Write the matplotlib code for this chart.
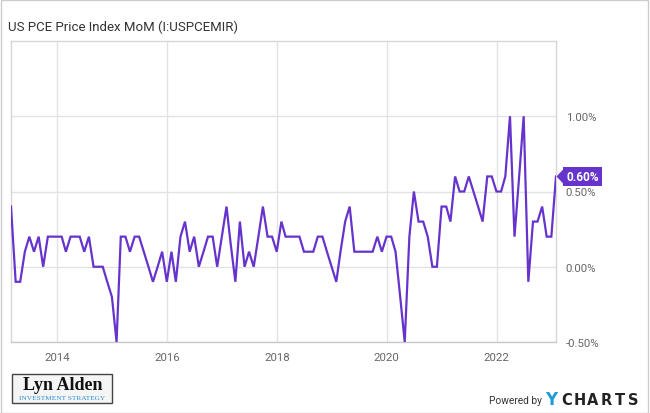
import numpy as np
import pandas as pd
import matplotlib
matplotlib.use("Agg")
import matplotlib.pyplot as plt
import matplotlib.dates as mdates
from matplotlib.patches import Rectangle
from matplotlib.path import Path

plt.rcParams["font.family"] = ["Roboto", "DejaVu Sans"]

# 数据: 月度 PCE 价格指数环比 (%), 2013-02 .. 2023-01
dates = pd.date_range("2013-02-28", "2023-01-31", freq="ME")
pce_2013 = [0.4, -0.1, -0.1, 0.1, 0.2, 0.1, 0.2, 0.0, 0.2, 0.2, 0.2]
pce_2014 = [0.2, 0.1, 0.2, 0.2, 0.2, 0.1, 0.2, 0.0, 0.0, 0.0, -0.1, -0.2]
pce_2015 = [-0.5, 0.2, 0.2, 0.1, 0.2, 0.2, 0.1, 0.0, -0.1, 0.0, 0.1, -0.1]
pce_2016 = [0.1, -0.1, 0.2, 0.3, 0.1, 0.2, 0.0, 0.1, 0.2, 0.2, 0.0, 0.2]
pce_2017 = [0.4, 0.15, -0.1, 0.3, 0.0, 0.1, 0.0, 0.2, 0.4, 0.2, 0.2, 0.1]
pce_2018 = [0.3, 0.2, 0.2, 0.2, 0.2, 0.1, 0.1, 0.1, 0.2, 0.2, 0.1, 0.0]
pce_2019 = [-0.1, 0.1, 0.3, 0.4, 0.1, 0.1, 0.1, 0.1, 0.1, 0.2, 0.1, 0.2]
pce_2020 = [0.2, 0.1, -0.2, -0.5, 0.2, 0.5, 0.3, 0.3, 0.2, 0.0, 0.0, 0.4]
pce_2021 = [0.4, 0.3, 0.6, 0.5, 0.5, 0.6, 0.5, 0.4, 0.3, 0.6, 0.6, 0.5]
pce_2022 = [0.5, 0.6, 1.0, 0.2, 0.6, 1.0, -0.1, 0.3, 0.3, 0.4, 0.2, 0.2]
pce_2023 = [0.6]
values = np.array(pce_2013 + pce_2014 + pce_2015 + pce_2016 + pce_2017 + pce_2018
                  + pce_2019 + pce_2020 + pce_2021 + pce_2022 + pce_2023)

y_ticks = [-0.5, 0.0, 0.5, 1.0]
x_years = [2014, 2016, 2018, 2020, 2022]

LINE_COLOR = "#6633cc"
GRID_COLOR = "#e3e3e3"
TEXT_COLOR = "#666666"

fig = plt.figure(figsize=(6.5, 4.14), dpi=100)
ax = fig.add_axes([11 / 650, 1 - 343 / 414, 545 / 650, 301 / 414])

ax.plot(dates, values, color=LINE_COLOR, lw=1.6, solid_joinstyle="miter", zorder=3)

ax.set_xlim(dates[0], dates[-1])
ax.set_ylim(-0.5, 1.5)
ax.set_yticks(y_ticks)
ax.set_yticklabels([f"{v:.2f}%" for v in y_ticks])
ax.set_xticks([pd.Timestamp(f"{y}-01-01") for y in x_years])
ax.xaxis.set_major_formatter(mdates.DateFormatter("%Y"))
ax.yaxis.tick_right()
ax.tick_params(axis="y", length=0, pad=7, labelsize=8.2, labelcolor=TEXT_COLOR)
ax.tick_params(axis="x", length=0, pad=7, labelsize=8.2, labelcolor=TEXT_COLOR)
for lab in ax.get_yticklabels():
    lab.set_horizontalalignment("left")
ax.grid(True, color=GRID_COLOR, lw=1)
ax.set_axisbelow(True)
for s in ax.spines.values():
    s.set_color("#d6d6d6")
    s.set_linewidth(1)
ax.spines["bottom"].set_color("#c8c8c8")

# 最新值标签
last_val = values[-1]
tri = Path([(0, 0), (8, -8.5), (8, 8.5), (0, 0)])
ax.plot([dates[-1]], [last_val], marker=tri, markersize=12.2, color=LINE_COLOR,
        markeredgewidth=0, clip_on=False, zorder=5)
ax.annotate(f"{last_val:.2f}%", xy=(dates[-1], last_val), xytext=(7.4, 0),
            textcoords="offset points", ha="left", va="center", fontsize=8.6,
            fontweight="bold", color="white", annotation_clip=False, zorder=6,
            bbox=dict(boxstyle="square,pad=0.25", fc=LINE_COLOR, ec=LINE_COLOR, lw=0))

fig.text(8 / 650, 1 - 27.5 / 414, "US PCE Price Index MoM (I:USPCEMIR)",
         fontsize=9.5, color="#333333", ha="left", va="center")

# 外框
fig.patches.append(Rectangle((0.5 / 650, 0.5 / 414), 647.5 / 650, 413 / 414,
                             transform=fig.transFigure, fill=False,
                             ec="#cccccc", lw=1))

# 左下 logo
fig.patches.append(Rectangle((12 / 650, 1 - 404 / 414), 100 / 650, 29 / 414,
                             transform=fig.transFigure, fc="#f5f5f5",
                             ec="#444444", lw=1))
fig.text(62.5 / 650, 1 - 386 / 414, "Lyn Alden", family="Liberation Serif",
         fontweight="bold", fontsize=13, color="#111111", ha="center", va="center")
fig.text(62.5 / 650, 1 - 398.5 / 414, "INVESTMENT STRATEGY", family="Liberation Serif",
         fontsize=5.3, color="#2a8fd8", ha="center", va="center")

# 右下 Powered by YCHARTS
fig.text(542 / 650, 1 - 401 / 414, "Powered by", fontsize=7.3, color="#333333",
         ha="right", va="center")
fig.text(545 / 650, 1 - 400.5 / 414, "Y", family="DejaVu Sans", fontweight="bold",
         fontsize=12, color="#1f9bd7", ha="left", va="center")
for i, ch in enumerate("CHARTS"):
    fig.text((566.5 + i * 13.3) / 650, 1 - 400.5 / 414, ch, family="DejaVu Sans",
             fontweight="bold", fontsize=10.5, color="#222222", ha="center", va="center")

fig.savefig("out.png", dpi=100)
